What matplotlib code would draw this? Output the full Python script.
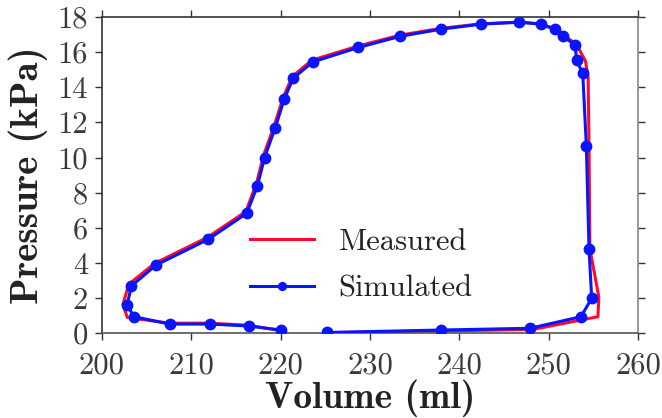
import matplotlib
matplotlib.use("Agg")
import matplotlib.pyplot as plt
from matplotlib.ticker import FixedLocator

# Pressure-volume loop: measured trace vs. simulated model output
vol_sim = [225.2, 237.9, 247.9, 253.6, 254.8, 254.5, 254.2, 253.8, 253.1, 252.95,
           251.6, 250.7, 249.1, 246.7, 242.4, 237.9, 233.4, 228.7, 223.6, 221.4,
           220.4, 219.4, 218.2, 217.4, 216.2, 211.9, 206.05, 203.3, 202.8, 203.6,
           207.6, 212.1, 216.4, 220.0]
pres_sim = [0.03, 0.17, 0.27, 0.93, 1.98, 4.78, 10.67, 14.79, 15.55, 16.40,
            16.91, 17.31, 17.60, 17.71, 17.60, 17.31, 16.91, 16.27, 15.45, 14.52,
            13.33, 11.71, 10.00, 8.39, 6.82, 5.34, 3.87, 2.68, 1.59, 0.93,
            0.51, 0.51, 0.40, 0.17]

vol_meas = [225.2, 237.9, 248.2, 255.5, 255.6, 254.6, 254.5, 254.4, 254.1, 253.1,
            251.6, 250.6, 249.0, 246.7, 242.4, 237.9, 233.4, 228.7, 223.5, 221.3,
            220.3, 219.3, 218.1, 217.3, 216.1, 211.8, 205.9, 203.0, 202.35, 202.85,
            207.6, 212.1, 216.4, 220.0]
pres_meas = [0.02, 0.12, 0.20, 0.93, 2.05, 4.80, 10.70, 14.60, 15.50, 16.45,
             17.00, 17.35, 17.62, 17.72, 17.62, 17.36, 16.98, 16.36, 15.55, 14.62,
             13.45, 11.85, 10.15, 8.55, 6.92, 5.45, 3.97, 2.78, 1.62, 0.88,
             0.56, 0.56, 0.44, 0.14]

x_ticks = [200, 210, 220, 230, 240, 250, 260]
y_ticks = [0, 2, 4, 6, 8, 10, 12, 14, 16, 18]

plt.rcParams["axes.unicode_minus"] = False

fig = plt.figure(figsize=(6.62, 4.18), dpi=100)
ax = fig.add_axes([0.154, 0.2033, 0.810, 0.7557])

ax.plot(vol_meas, pres_meas, color="#ff0a2a", lw=2.2, label="Measured", zorder=2)
ax.plot(vol_sim, pres_sim, color="#0a14ff", lw=2.2, marker="o", ms=7.5,
        label="Simulated", zorder=3)

ax.set_xlim(200, 260)
ax.set_ylim(0, 18)
ax.xaxis.set_major_locator(FixedLocator(x_ticks))
ax.yaxis.set_major_locator(FixedLocator(y_ticks))

tick_col = "#3a3a3a"
ax.tick_params(axis="both", which="major", direction="out", length=5, width=1.0,
               color="#333333", labelsize=22, labelcolor=tick_col,
               top=True, right=True, labeltop=False, labelright=False)
ax.tick_params(axis="x", pad=9)
ax.tick_params(axis="y", pad=5)
for lab in ax.get_xticklabels() + ax.get_yticklabels():
    lab.set_fontfamily("cmr10")

ax.spines["left"].set_color("#333333")
ax.spines["top"].set_color("#333333")
ax.spines["bottom"].set_color("#555555")
ax.spines["right"].set_color("#888888")
for s in ax.spines.values():
    s.set_linewidth(1.2)
for t in ax.yaxis.get_ticklines()[1::2]:
    t.set_color("#888888")

ax.set_xlabel("Volume (ml)", fontfamily="cmb10", fontsize=27, color="#222222",
              labelpad=0)
ax.set_ylabel("Pressure (kPa)", fontfamily="cmb10", fontsize=28, color="#222222",
              labelpad=7)

leg = ax.legend(loc="center left", bbox_to_anchor=(0.276, 0.2136), frameon=False,
                prop={"family": "cmr10", "size": 22}, handlelength=2.1,
                handletextpad=0.8, labelspacing=0.65, markerscale=0.75,
                borderpad=0, borderaxespad=0)
for t in leg.get_texts():
    t.set_color("#222222")

fig.savefig("out.png", dpi=100)
